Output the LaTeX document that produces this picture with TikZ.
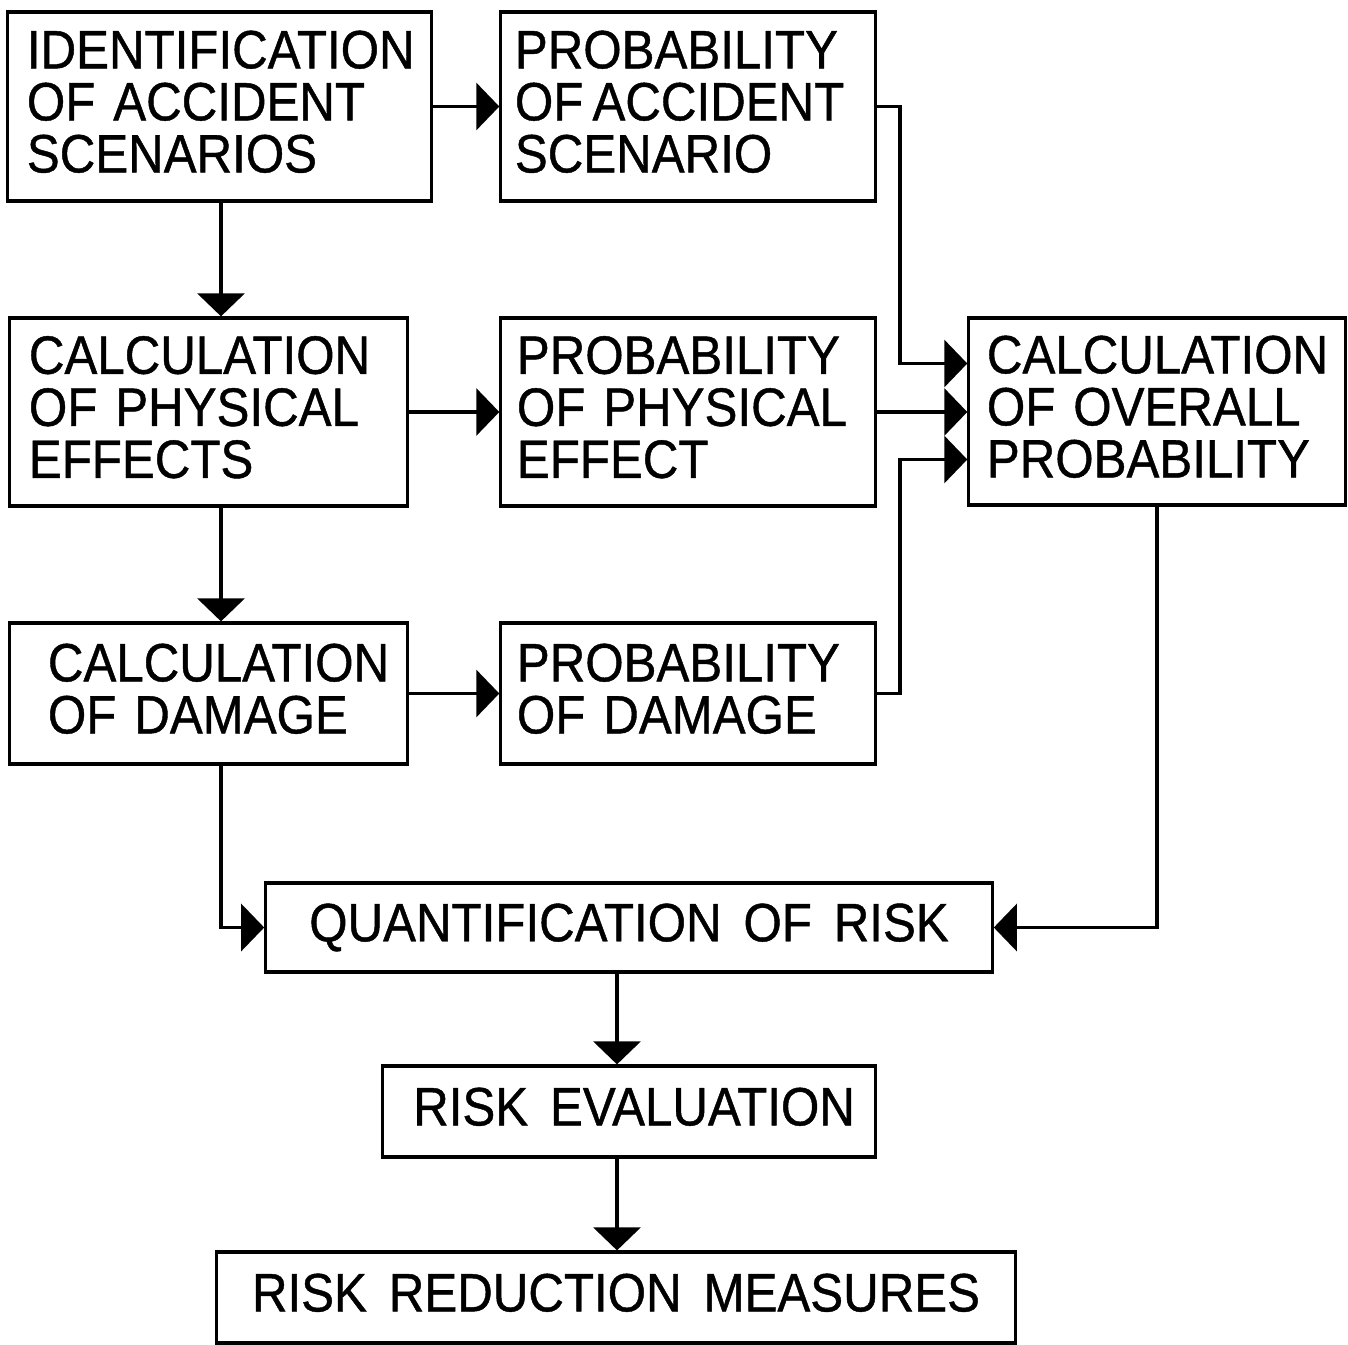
\documentclass[tikz,border=0pt]{standalone}
\usepackage{fontspec}
\setmainfont{Liberation Sans}[FakeStretch=0.912, WordSpace=1.6, FakeBold=0.8]
\usetikzlibrary{arrows.meta,calc}

% type size and leading of the box labels
\newcommand{\boxfont}{\fontsize{15.36pt}{14.8pt}\selectfont}
% extra depth under the last line, so labels sit a little above centre
\newcommand{\raisetext}{\rule[-0.10cm]{0pt}{0pt}}

\begin{document}
\begin{tikzpicture}[x=0.01cm, y=-0.01cm,
  box/.style={draw, line width=0.9pt, inner ysep=0pt, font=\boxfont},
  lbox/.style={box, align=left},
  cbox/.style={box, inner xsep=0.1cm},
  flow/.style={line width=0.9pt, -{Triangle[length=0.23cm, width=0.47cm]}}
]
\useasboundingbox (0,0) rectangle (1348,1345);
\fill[white] (0,0) rectangle (1348,1345);

% left column
\node[lbox, minimum width=4.23cm, minimum height=1.89cm, inner xsep=0.19cm, text width=3.85cm]
  (b1) at (219.5,106.5) {IDENTIFICATION\\OF~ACCIDENT\\SCENARIOS\raisetext};
\node[lbox, minimum width=3.97cm, minimum height=1.88cm, inner xsep=0.19cm, text width=3.59cm]
  (b3) at (208.5,412) {CALCULATION\\OF~PHYSICAL\\EFFECTS\raisetext};
\node[lbox, minimum width=3.97cm, minimum height=1.41cm, inner xsep=0.38cm, text width=3.21cm]
  (b6) at (208.5,693.5) {CALCULATION\\OF~DAMAGE\raisetext};

% middle column
\node[lbox, minimum width=3.74cm, minimum height=1.89cm, inner xsep=0.14cm, text width=3.46cm]
  (b2) at (688,106.5) {PROBABILITY\\OF\nobreak\hspace{0.17em}ACCIDENT\\SCENARIO\raisetext};
\node[lbox, minimum width=3.74cm, minimum height=1.88cm, inner xsep=0.16cm, text width=3.42cm]
  (b4) at (688,412) {PROBABILITY\\OF~PHYSICAL\\EFFECT\raisetext};
\node[lbox, minimum width=3.74cm, minimum height=1.41cm, inner xsep=0.16cm, text width=3.42cm]
  (b7) at (688,693.5) {PROBABILITY\\OF~DAMAGE\raisetext};

% right column
\node[lbox, minimum width=3.76cm, minimum height=1.87cm, inner xsep=0.18cm, text width=3.40cm]
  (b5) at (1157,411.5) {CALCULATION\\OF~OVERALL\\PROBABILITY\raisetext};

% bottom chain
\node[cbox, minimum width=7.26cm, minimum height=0.89cm]
  (b8) at (629,927.5) {QUANTIFICATION~OF~RISK\raisetext};
\node[cbox, minimum width=4.92cm, minimum height=0.91cm]
  (b9) at (629,1111.5) {\hspace{0.1cm}RISK~EVALUATION\raisetext};
\node[cbox, minimum width=7.98cm, minimum height=0.91cm]
  (b10) at (616,1297.5) {RISK~REDUCTION~MEASURES\raisetext};

% helper points for the connectors
\coordinate (busx) at (900,0);
\coordinate (colx) at (617,0);
\coordinate (leftx) at (221,0);
\coordinate (in1) at ($(b5.west)+(0,-48)$);
\coordinate (in3) at ($(b5.west)+(0,48)$);

% left column downwards and across
\draw[flow] (b1.east) -- (b1.east -| b2.west);
\draw[flow] (leftx |- b1.south) -- (leftx |- b3.north);
\draw[flow] (b3.east) -- (b3.east -| b4.west);
\draw[flow] (leftx |- b3.south) -- (leftx |- b6.north);
\draw[flow] (b6.east) -- (b6.east -| b7.west);

% probabilities into the overall probability
\draw[flow] (b2.east) -- (b2.east -| busx) |- (in1);
\draw[flow] (b4.east) -- (b4.east -| b5.west);
\draw[flow] (b7.east) -- (b7.east -| busx) |- (in3);

% into quantification of risk
\draw[flow] (leftx |- b6.south) |- (b8.west);
\draw[flow] (b5.south) |- (b8.east);

% evaluation and measures
\draw[flow] (colx |- b8.south) -- (colx |- b9.north);
\draw[flow] (colx |- b9.south) -- (colx |- b10.north);
\end{tikzpicture}
\end{document}
